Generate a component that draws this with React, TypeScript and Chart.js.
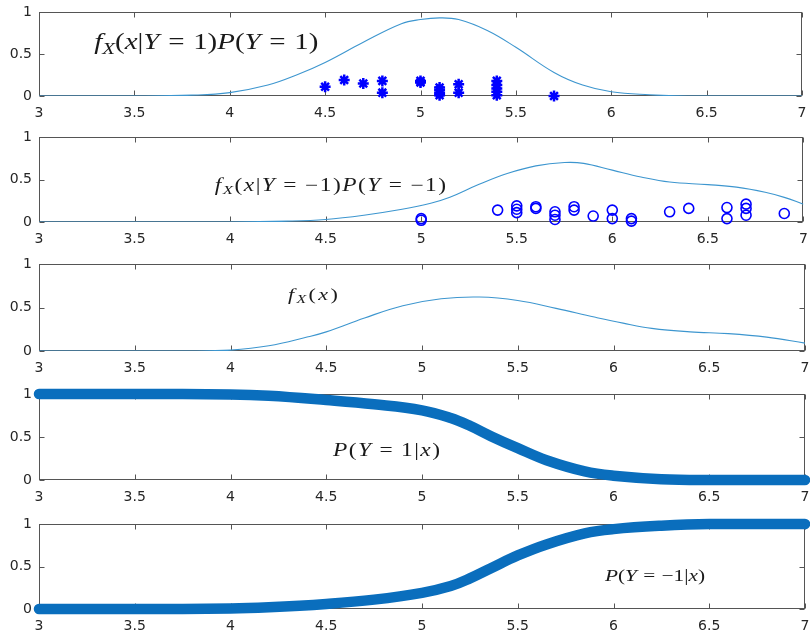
import React, { useEffect, useRef } from "react";
import { Chart, registerables } from "chart.js";
Chart.register(...registerables);

// ---- axes ----
const xTickValues = [3, 3.5, 4, 4.5, 5, 5.5, 6, 6.5, 7];
const xTickLabels = ["3", "3.5", "4", "4.5", "5", "5.5", "6", "6.5", "7"];
const yTickValues = [0, 0.5, 1];
const yTickLabels = ["0", "0.5", "1"];

// ---- panel 1: f_X(x|Y=1)P(Y=1) ----
const jointPosX = [3.0, 3.5, 3.8, 4.0, 4.2, 4.35, 4.5, 4.7, 4.9, 5.0, 5.1, 5.2, 5.35, 5.5, 5.7, 5.85, 6.0, 6.2, 6.4, 7.0];
const jointPosY = [0, 0, 0.01, 0.04, 0.13, 0.25, 0.4, 0.64, 0.86, 0.91, 0.93, 0.91, 0.78, 0.58, 0.28, 0.13, 0.05, 0.015, 0, 0];
const posSampleX = [4.5, 4.6, 4.7, 4.8, 4.8, 5.0, 5.0, 5.1, 5.1, 5.1, 5.1, 5.2, 5.2, 5.4, 5.4, 5.4, 5.4, 5.4, 5.7];
const posSampleY = [0.11, 0.19, 0.15, 0.18, 0.04, 0.18, 0.16, 0.1, 0.07, 0.04, 0.01, 0.14, 0.04, 0.18, 0.13, 0.09, 0.05, 0.01, 0.0];

// ---- panel 2: f_X(x|Y=-1)P(Y=-1) ----
const jointNegX = [3.0, 4.0, 4.3, 4.5, 4.7, 4.9, 5.05, 5.15, 5.3, 5.45, 5.6, 5.75, 5.85, 6.0, 6.15, 6.3, 6.5, 6.65, 6.8, 6.9, 7.0];
const jointNegY = [0, 0, 0.01, 0.03, 0.08, 0.15, 0.22, 0.29, 0.44, 0.57, 0.66, 0.7, 0.69, 0.61, 0.53, 0.47, 0.44, 0.41, 0.35, 0.29, 0.21];
const negSampleX = [5.0, 5.0, 5.4, 5.5, 5.5, 5.5, 5.6, 5.6, 5.7, 5.7, 5.7, 5.8, 5.8, 5.9, 6.0, 6.0, 6.1, 6.1, 6.3, 6.4, 6.6, 6.6, 6.7, 6.7, 6.7, 6.9];
const negSampleY = [0.04, 0.02, 0.14, 0.19, 0.15, 0.11, 0.18, 0.16, 0.12, 0.08, 0.03, 0.18, 0.14, 0.07, 0.14, 0.04, 0.04, 0.01, 0.12, 0.16, 0.17, 0.04, 0.21, 0.16, 0.08, 0.1];

// ---- panel 3: f_X(x) ----
const marginalX = [3.0, 3.8, 4.0, 4.2, 4.4, 4.5, 4.7, 4.9, 5.1, 5.3, 5.5, 5.7, 5.9, 6.05, 6.2, 6.4, 6.6, 6.8, 7.0];
const marginalY = [0, 0, 0.01, 0.06, 0.16, 0.22, 0.38, 0.52, 0.6, 0.62, 0.58, 0.49, 0.39, 0.32, 0.26, 0.22, 0.2, 0.16, 0.09];

// ---- panel 4: P(Y=1|x) ----
const postPosX = [3.0, 3.5, 4.0, 4.2, 4.5, 4.75, 5.0, 5.15, 5.25, 5.36, 5.5, 5.65, 5.85, 6.0, 6.25, 6.5, 7.0];
const postPosY = [1, 1, 0.995, 0.98, 0.93, 0.88, 0.81, 0.72, 0.63, 0.51, 0.37, 0.23, 0.1, 0.05, 0.01, 0, 0];

// ---- panel 5: P(Y=-1|x) ----
const postNegX = [3.0, 3.5, 4.0, 4.2, 4.5, 4.75, 5.0, 5.15, 5.25, 5.36, 5.5, 5.65, 5.85, 6.0, 6.25, 6.5, 7.0];
const postNegY = [0, 0, 0.005, 0.02, 0.06, 0.11, 0.19, 0.27, 0.36, 0.48, 0.63, 0.76, 0.89, 0.94, 0.98, 1, 1];

type Part = { t: string; it?: boolean; sub?: boolean; rel?: boolean };
type LabelCfg = { x: number; xEnd: number; y: number; size: number; parts: Part[] };

const zip = (xs: number[], ys: number[]) => xs.map((x, i) => ({ x, y: ys[i] }));

const THIN = "#3d96cf";
const THICK = "#0a6ebd";
const MARK = "#0000ff";
const TICK_FONT = { family: '"DejaVu Sans", "Liberation Sans", Arial, sans-serif', size: 14 };

const framePlugin = {
  id: "frame",
  beforeDatasetsDraw(chart: any) {
    const { ctx, chartArea: a, scales } = chart;
    ctx.save();
    ctx.strokeStyle = "#555555";
    ctx.lineWidth = 1;
    const l = Math.round(a.left) + 0.5;
    const r = Math.round(a.right) - 0.5;
    const t = Math.round(a.top) + 0.5;
    const b = Math.round(a.bottom) - 0.5;
    ctx.strokeRect(l, t, r - l, b - t);
    const L = 5;
    ctx.beginPath();
    xTickValues.forEach((v) => {
      const px = Math.round(scales.x.getPixelForValue(v)) + 0.5;
      ctx.moveTo(px, b);
      ctx.lineTo(px, b - L);
      ctx.moveTo(px, t);
      ctx.lineTo(px, t + L);
    });
    yTickValues.forEach((v) => {
      const py = Math.round(scales.y.getPixelForValue(v)) + 0.5;
      ctx.moveTo(l, py);
      ctx.lineTo(l + L, py);
      ctx.moveTo(r, py);
      ctx.lineTo(r - L, py);
    });
    ctx.stroke();
    ctx.restore();
  },
};

const makeLabelPlugin = (cfg: LabelCfg) => ({
  id: "mathLabel",
  afterDatasetsDraw(chart: any) {
    const { ctx, scales } = chart;
    const x0 = scales.x.getPixelForValue(cfg.x);
    const x1 = scales.x.getPixelForValue(cfg.xEnd);
    const y = scales.y.getPixelForValue(cfg.y);
    const size = cfg.size;
    const base = y + size * 0.33;
    const gap = size * 0.3;
    const fontFor = (g: { it?: boolean; sub?: boolean }) =>
      `${g.it ? "italic " : ""}${g.sub ? size * 0.72 : size}px "Liberation Serif", "DejaVu Serif", serif`;
    const glyphs: { ch: string; it?: boolean; sub?: boolean; rel?: boolean; w: number }[] = [];
    ctx.save();
    for (const p of cfg.parts) {
      for (const ch of Array.from(p.t)) {
        ctx.font = fontFor(p);
        glyphs.push({ ch, it: p.it, sub: p.sub, rel: p.rel, w: ctx.measureText(ch).width });
      }
    }
    const natural = glyphs.reduce((s, g) => s + g.w + (g.rel ? 2 * gap : 0), 0);
    const target = x1 - x0;
    const stretch = Math.min(1.3, Math.max(1, target / natural));
    const ls = glyphs.length > 1 ? (target - natural * stretch) / (glyphs.length - 1) : 0;
    ctx.fillStyle = "#1a1a1a";
    ctx.textBaseline = "alphabetic";
    ctx.textAlign = "left";
    let x = x0;
    for (const g of glyphs) {
      if (g.rel) x += gap * stretch;
      ctx.font = fontFor(g);
      ctx.save();
      ctx.translate(x, g.sub ? base + size * 0.2 : base);
      ctx.scale(stretch, 1);
      ctx.fillText(g.ch, 0, 0);
      ctx.restore();
      x += g.w * stretch;
      if (g.rel) x += gap * stretch;
      x += ls;
    }
    ctx.restore();
  },
});

const fPart = (rest: Part[]): Part[] => [{ t: "f", it: true }, { t: "X", it: true, sub: true }, ...rest];

type Panel = {
  top: number;
  bottom: number;
  datasets: any[];
  label: LabelCfg;
};

const thinLine = (xs: number[], ys: number[]) => ({
  data: zip(xs, ys),
  borderColor: THIN,
  borderWidth: 1.1,
  pointRadius: 0,
  tension: 0.4,
  showLine: true,
  fill: false,
});

const thickLine = (xs: number[], ys: number[]) => ({
  data: zip(xs, ys),
  borderColor: THICK,
  borderWidth: 10.5,
  borderCapStyle: "round",
  borderJoinStyle: "round",
  pointRadius: 0,
  tension: 0.4,
  showLine: true,
  fill: false,
  clip: false,
});

const panels: Panel[] = [
  {
    top: 12,
    bottom: 96,
    datasets: [
      thinLine(jointPosX, jointPosY),
      {
        data: zip(posSampleX, posSampleY),
        showLine: false,
        pointStyle: "star",
        pointRadius: 5.5,
        borderColor: MARK,
        backgroundColor: MARK,
        pointBorderWidth: 2.5,
        clip: false,
      },
    ],
    label: {
      x: 3.29,
      xEnd: 4.465,
      y: 0.65,
      size: 24,
      parts: fPart([
        { t: "(" },
        { t: "x", it: true },
        { t: "|" },
        { t: "Y", it: true },
        { t: "=", rel: true },
        { t: "1)" },
        { t: "P", it: true },
        { t: "(" },
        { t: "Y", it: true },
        { t: "=", rel: true },
        { t: "1)" },
      ]),
    },
  },
  {
    top: 137,
    bottom: 222,
    datasets: [
      thinLine(jointNegX, jointNegY),
      {
        data: zip(negSampleX, negSampleY),
        showLine: false,
        pointStyle: "circle",
        pointRadius: 5,
        borderColor: MARK,
        backgroundColor: "rgba(0,0,0,0)",
        pointBorderWidth: 1.6,
        clip: false,
      },
    ],
    label: {
      x: 3.92,
      xEnd: 5.13,
      y: 0.44,
      size: 18,
      parts: fPart([
        { t: "(" },
        { t: "x", it: true },
        { t: "|" },
        { t: "Y", it: true },
        { t: "=", rel: true },
        { t: "−1)" },
        { t: "P", it: true },
        { t: "(" },
        { t: "Y", it: true },
        { t: "=", rel: true },
        { t: "−1)" },
      ]),
    },
  },
  {
    top: 264,
    bottom: 351,
    datasets: [thinLine(marginalX, marginalY)],
    label: {
      x: 4.3,
      xEnd: 4.56,
      y: 0.65,
      size: 17,
      parts: fPart([{ t: "(" }, { t: "x", it: true }, { t: ")" }]),
    },
  },
  {
    top: 394,
    bottom: 480,
    datasets: [thickLine(postPosX, postPosY)],
    label: {
      x: 4.535,
      xEnd: 5.094,
      y: 0.35,
      size: 18,
      parts: [
        { t: "P", it: true },
        { t: "(" },
        { t: "Y", it: true },
        { t: "=", rel: true },
        { t: "1|" },
        { t: "x", it: true },
        { t: ")" },
      ],
    },
  },
  {
    top: 524,
    bottom: 609,
    datasets: [thickLine(postNegX, postNegY)],
    label: {
      x: 5.955,
      xEnd: 6.478,
      y: 0.4,
      size: 17,
      parts: [
        { t: "P", it: true },
        { t: "(" },
        { t: "Y", it: true },
        { t: "=", rel: true },
        { t: "−1|" },
        { t: "x", it: true },
        { t: ")" },
      ],
    },
  },
];

const PAD_TOP = 10;
const X_AXIS_H = 26;
const Y_AXIS_W = 39;
const WIDTH = 810;

function PanelChart({ panel }: { panel: Panel }) {
  const ref = useRef<HTMLCanvasElement>(null);
  const height = PAD_TOP + (panel.bottom - panel.top) + X_AXIS_H;
  useEffect(() => {
    if (!ref.current) return;
    const chart = new Chart(ref.current, {
      type: "line",
      data: { datasets: panel.datasets },
      options: {
        animation: false,
        responsive: false,
        devicePixelRatio: 1,
        layout: { padding: { top: PAD_TOP, right: 5, left: 0, bottom: 0 } },
        plugins: { legend: { display: false }, tooltip: { enabled: false } },
        scales: {
          x: {
            type: "linear",
            min: 3,
            max: 7,
            grid: { display: false, drawTicks: false },
            border: { display: false },
            afterBuildTicks: (s: any) => {
              s.ticks = xTickValues.map((v) => ({ value: v }));
            },
            afterFit: (s: any) => {
              s.height = X_AXIS_H;
              s.paddingLeft = 0;
              s.paddingRight = 0;
            },
            ticks: {
              autoSkip: false,
              maxRotation: 0,
              padding: 9,
              color: "#262626",
              font: TICK_FONT,
              callback: (_v: any, i: number) => xTickLabels[i],
            },
          },
          y: {
            type: "linear",
            min: 0,
            max: 1,
            grid: { display: false, drawTicks: false },
            border: { display: false },
            afterBuildTicks: (s: any) => {
              s.ticks = yTickValues.map((v) => ({ value: v }));
            },
            afterFit: (s: any) => {
              s.width = Y_AXIS_W;
              s.paddingTop = 0;
              s.paddingBottom = 0;
            },
            ticks: {
              padding: 7,
              color: "#262626",
              font: TICK_FONT,
              callback: (_v: any, i: number) => yTickLabels[i],
            },
          },
        },
      } as any,
      plugins: [framePlugin, makeLabelPlugin(panel.label)],
    });
    return () => chart.destroy();
  }, [panel]);
  return (
    <canvas
      ref={ref}
      width={WIDTH}
      height={height}
      style={{ position: "absolute", left: 0, top: panel.top - PAD_TOP, width: WIDTH, height }}
    />
  );
}

export default function App() {
  return (
    <div style={{ position: "absolute", left: 0, top: 0, width: 810, height: 637, background: "#fff" }}>
      {panels.map((p, i) => (
        <PanelChart key={i} panel={p} />
      ))}
    </div>
  );
}
